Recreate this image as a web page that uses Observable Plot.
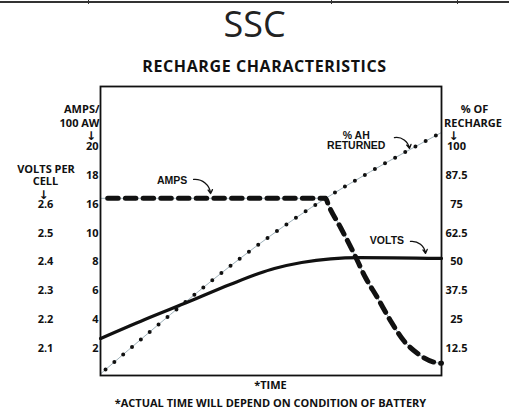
<!DOCTYPE html>
<html><head><meta charset="utf-8">
<script src="https://cdn.jsdelivr.net/npm/d3@7"></script>
<script src="https://cdn.jsdelivr.net/npm/@observablehq/plot@0.6"></script>
<style>
body{margin:0;background:#fff;}
#wrap{position:relative;width:509px;height:409px;overflow:hidden;font-family:"Open Sans",sans-serif;color:#111;}
#rule{position:absolute;left:0;top:1px;width:509px;height:2px;background:#333;}
.vt{position:absolute;top:0;width:1px;height:4px;background:#333;}
#title{position:absolute;left:0;width:509px;top:4px;line-height:40px;text-align:center;font-size:36px;color:#222;}
#sub{position:absolute;left:10px;width:509px;top:56px;line-height:20px;text-align:center;font-size:16px;font-weight:700;letter-spacing:0.6px;}
#chart{position:absolute;left:0;top:0;}
.foot{position:absolute;left:16px;width:509px;text-align:center;font-size:11px;font-weight:700;line-height:14px;}
</style>
</head><body>
<div id="wrap">
  <div id="rule"></div>
  <div class="vt" style="left:88px"></div>
  <div class="vt" style="left:331px"></div>
  <div class="vt" style="left:457px"></div>
  <div id="chart"></div>
  <div id="title">SSC</div>
  <div id="sub">RECHARGE CHARACTERISTICS</div>
  <div class="foot" style="top:378px">*TIME</div>
  <div class="foot" style="top:396px">*ACTUAL TIME WILL DEPEND ON CONDITION OF BATTERY</div>
</div>
<script>
// Tick labels
const pctTicks = [12.5, 25, 37.5, 50, 62.5, 75, 87.5, 100];
const ampsTicks = [2, 4, 6, 8, 10, 16, 18, 20];
const voltsTicks = [2.1, 2.2, 2.3, 2.4, 2.5, 2.6];

// Series (time in % of the charge period)
const ampsTime = [0, 66, 66.9, 70.4, 74.2, 77.7, 81.2, 85.0, 88.9, 93.0, 98.2, 100];
const ampsVal  = [16.26, 16.26, 15.28, 10.72, 8.51, 6.78, 5.39, 3.81, 2.42, 1.52, 0.90, 0.85];

const voltsTime = [0, 13, 26, 38, 51, 59, 76, 100];
const voltsVal  = [2.128, 2.194, 2.256, 2.315, 2.370, 2.391, 2.408, 2.405];

const ahTime = [0, 66, 79.2, 100];
const ahVal  = [0.7, 76.6, 88.2, 105.1];

// Annotations
const labelAmps = "AMPS";
const labelVolts = "VOLTS";
const labelAh = "% AH\nRETURNED";

// Map each unit onto the shared percent-of-recharge scale
const ampsToPct = d3.scaleLinear().domain([0, ...ampsTicks]).range([0, ...pctTicks]);
const voltsToPct = d3.scaleLinear().domain([2.0, 2.6]).range([0, 75]);

const amps = ampsTime.map((t, i) => ({t, p: ampsToPct(ampsVal[i])}));
const volts = voltsTime.map((t, i) => ({t, p: voltsToPct(voltsVal[i])}));
const ah = ahTime.map((t, i) => ({t, p: ahVal[i]}));

const ampsLabel = new Map(ampsTicks.map(a => [ampsToPct(a), String(a)]));
const voltsLabel = new Map(voltsTicks.map(v => [voltsToPct(v), v.toFixed(1)]));

const ink = "#111";
const guide = "#9fb2bb";
const fnt = {fontFamily: "Open Sans", fontWeight: "bold", fontSize: 11};
const arr = {fontFamily: "DejaVu Sans", fontWeight: "bold", fontSize: 12};
const ann = {fontFamily: "Liberation Sans", fontWeight: "bold", fontSize: 10.5, fill: ink};

const chart = Plot.plot({
  width: 509, height: 409,
  marginLeft: 100, marginRight: 68, marginTop: 86, marginBottom: 34,
  style: {fontFamily: "Open Sans", color: ink, background: "transparent"},
  x: {domain: [0, 100], axis: null},
  y: {domain: [0, 125]},
  marks: [
    // guide lines under dashed/dotted series
    Plot.line(amps, {x: "t", y: "p", stroke: guide, strokeWidth: 1, curve: "monotone-x"}),
    Plot.line(ah, {x: "t", y: "p", stroke: guide, strokeWidth: 1, curve: "monotone-x"}),
    Plot.line(amps, {x: "t", y: "p", stroke: ink, strokeWidth: 5, strokeDasharray: "10.5 7.2", strokeDashoffset: 10.5, curve: "monotone-x"}),
    Plot.line(ah, {x: "t", y: "p", stroke: ink, strokeWidth: 4, strokeDasharray: "0 11.6", strokeDashoffset: 5, strokeLinecap: "round", curve: "monotone-x"}),
    Plot.line(volts, {x: "t", y: "p", stroke: ink, strokeWidth: 3.2, curve: "monotone-x"}),
    Plot.frame({stroke: ink, strokeWidth: 1.8}),
    // axes
    Plot.axisY({anchor: "left", ticks: ampsTicks.map(ampsToPct), tickFormat: p => ampsLabel.get(p), tickSize: 0, tickPadding: 2, dy: 2, label: null, ...fnt}),
    Plot.axisY({anchor: "left", ticks: voltsTicks.map(voltsToPct), tickFormat: p => voltsLabel.get(p), tickSize: 0, tickPadding: 55, textAnchor: "middle", dy: 2, label: null, ...fnt}),
    Plot.axisY({anchor: "right", ticks: pctTicks, tickFormat: p => String(p), tickSize: 0, tickPadding: 15, textAnchor: "middle", dy: 2, label: null, ...fnt}),
    // axis headers
    Plot.text(["AMPS/"], {frameAnchor: "top-left", dx: -1, dy: 19, textAnchor: "end", ...fnt}),
    Plot.text(["100 AW"], {frameAnchor: "top-left", dx: -1, dy: 33, textAnchor: "end", ...fnt}),
    Plot.text(["↓"], {frameAnchor: "top-left", dx: -9.5, dy: 45, textAnchor: "middle", ...arr}),
    Plot.text(["VOLTS PER"], {frameAnchor: "top-left", dx: -54.5, dy: 79, textAnchor: "middle", ...fnt}),
    Plot.text(["CELL"], {frameAnchor: "top-left", dx: -55, dy: 91, textAnchor: "middle", ...fnt}),
    Plot.text(["↓"], {frameAnchor: "top-left", dx: -57, dy: 104, textAnchor: "middle", ...arr}),
    Plot.text(["% OF"], {frameAnchor: "top-right", dx: 33, dy: 19, textAnchor: "middle", ...fnt}),
    Plot.text(["RECHARGE"], {frameAnchor: "top-right", dx: 31.5, dy: 33, textAnchor: "middle", ...fnt}),
    Plot.text(["↓"], {frameAnchor: "top-right", dx: 12, dy: 45, textAnchor: "middle", ...arr}),
    // series annotations
    Plot.text([{t: 21.0, p: 84.4}], {x: "t", y: "p", text: () => labelAmps, ...ann}),
    Plot.arrow([{x1: 27.3, y1: 84.8, x2: 32.3, y2: 78.7}], {x1: "x1", y1: "y1", x2: "x2", y2: "y2", bend: 45, stroke: ink, strokeWidth: 1.3, headLength: 5}),
    Plot.text([{t: 84.0, p: 58.4}], {x: "t", y: "p", text: () => labelVolts, ...ann}),
    Plot.arrow([{x1: 90.9, y1: 58.0, x2: 95.3, y2: 52.8}], {x1: "x1", y1: "y1", x2: "x2", y2: "y2", bend: 45, stroke: ink, strokeWidth: 1.3, headLength: 5}),
    Plot.text([{t: 75.0, p: 101.6}], {x: "t", y: "p", text: () => labelAh, lineHeight: 0.95, ...ann}),
    Plot.arrow([{x1: 86.2, y1: 102.9, x2: 90.6, y2: 98.2}], {x1: "x1", y1: "y1", x2: "x2", y2: "y2", bend: 45, stroke: ink, strokeWidth: 1.3, headLength: 5})
  ]
});
document.getElementById("chart").appendChild(chart);
</script>
</body></html>
